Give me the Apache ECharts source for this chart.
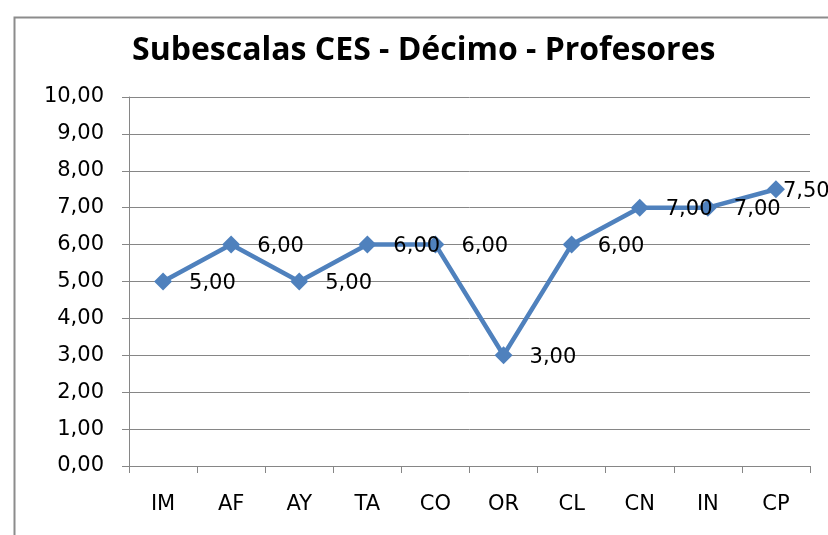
<!DOCTYPE html>
<html><head><meta charset="utf-8">
<script src="https://cdn.jsdelivr.net/npm/echarts@6/dist/echarts.min.js"></script>
<style>html,body{margin:0;padding:0;background:#fff}#c{width:828px;height:535px}</style>
</head><body><div id="c"></div>
<script>
var titleText = 'Subescalas CES - Décimo - Profesores';
var categories = ['IM','AF','AY','TA','CO','OR','CL','CN','IN','CP'];
var values = [5, 6, 5, 6, 6, 3, 6, 7, 7, 7.5];
var yMin = 0, yMax = 10, yStep = 1;

function fmt(v){ return v.toFixed(2).replace('.', ','); }

// last label is pulled in close to its marker (as in the reference)
var seriesData = values.map(function(v, i){
  return i === values.length - 1 ? {value: v, label: {distance: -2}} : v;
});

var chart = echarts.init(document.getElementById('c'), null, {renderer:'canvas'});
chart.setOption({
  backgroundColor: '#ffffff',
  animation: false,
  title: {
    text: titleText, left: 132, top: 35, padding: 0,
    textStyle: {fontFamily: 'Open Sans', fontWeight: 'bold', fontSize: 32, color: '#000'}
  },
  graphic: [{
    type: 'rect', left: 12, top: 15, z: -1,
    shape: {x: 0, y: 0, width: 900, height: 600},
    style: {fill: 'none', stroke: '#8c8c8c', lineWidth: 2}
  }],
  grid: {left: 129, right: 18, top: 97, bottom: 69},
  xAxis: {
    type: 'category', data: categories, boundaryGap: true,
    axisLine: {lineStyle: {color: '#868686', width: 1}},
    axisTick: {show: true, length: 7, interval: 0, lineStyle: {color: '#868686'}},
    axisLabel: {margin: 28, fontFamily: 'DejaVu Sans', fontSize: 21, color: '#000', interval: 0},
    splitLine: {show: false}
  },
  yAxis: {
    type: 'value', min: yMin, max: yMax, interval: yStep,
    axisLine: {show: true, lineStyle: {color: '#868686', width: 1}},
    axisTick: {show: true, length: 7, lineStyle: {color: '#868686'}},
    axisLabel: {margin: 25, fontFamily: 'DejaVu Sans', fontSize: 21, color: '#000', formatter: function(v){return fmt(v);}},
    splitLine: {show: true, lineStyle: {color: '#868686', width: 1}}
  },
  series: [{
    type: 'line', data: seriesData,
    symbol: 'diamond', symbolSize: 18,
    lineStyle: {color: '#4F81BD', width: 4.5},
    itemStyle: {color: '#4F81BD'},
    label: {
      show: true, position: 'right', distance: 17, offset: [0, 2],
      fontFamily: 'DejaVu Sans', fontSize: 21, color: '#000',
      formatter: function(p){ return fmt(p.value); }
    }
  }]
});
</script></body></html>
